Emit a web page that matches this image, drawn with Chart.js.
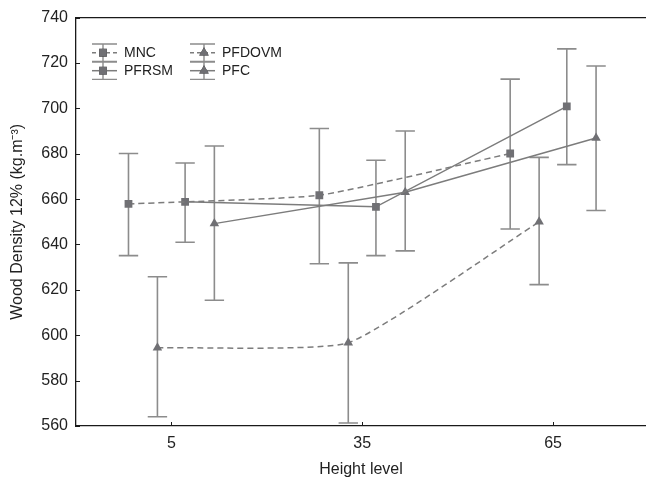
<!DOCTYPE html>
<html><head><meta charset="utf-8">
<script src="https://cdn.jsdelivr.net/npm/chart.js@4"></script>
<style>html,body{margin:0;padding:0;background:#fff}#wrap{width:646px;height:479px}</style>
</head><body><div id="wrap"><canvas id="c" width="646" height="479"></canvas></div>
<script>
// ---- data ----
const heightLevels = [5, 35, 65];
const seriesNames = ['MNC', 'PFDOVM', 'PFRSM', 'PFC'];
const mncMean = [657.9, 661.7, 680.1];
const mncUpper = [680.1, 691.1, 712.9];
const mncLower = [635.1, 631.5, 646.8];
const pfdovmMean = [594.5, 596.7, 650.0];
const pfdovmUpper = [625.8, 631.9, 678.4];
const pfdovmLower = [564.1, 561.3, 622.3];
const pfrsmMean = [658.8, 656.6, 700.9];
const pfrsmUpper = [675.9, 677.1, 726.2];
const pfrsmLower = [641.0, 635.1, 675.2];
const pfcMean = [649.2, 663.0, 686.9];
const pfcUpper = [683.4, 690.0, 718.7];
const pfcLower = [615.4, 637.2, 655.0];
const xTickValues = [5, 35, 65];
const yTickValues = [560, 580, 600, 620, 640, 660, 680, 700, 720, 740];

// ---- styles (not data) ----
const FONT = '"Liberation Sans", Arial, sans-serif';
const LINE = '#7c7c7c', BAR = '#8c8c8c', MARK = '#707074', AXIS = '#1a1a1a', TXT = '#222';
const styleInfo = {
  MNC:    {offset: -6.75, dash: [6, 4], shape: 'rect',     tension: 0.15},
  PFDOVM: {offset: -2.2,  dash: [6, 4], shape: 'triangle', tension: 0.15},
  PFRSM:  {offset: 2.15,  dash: [],     shape: 'rect',     tension: 0},
  PFC:    {offset: 6.75,  dash: [],     shape: 'triangle', tension: 0}
};
const seriesData = {
  MNC: [mncMean, mncUpper, mncLower],
  PFDOVM: [pfdovmMean, pfdovmUpper, pfdovmLower],
  PFRSM: [pfrsmMean, pfrsmUpper, pfrsmLower],
  PFC: [pfcMean, pfcUpper, pfcLower]
};

const datasets = seriesNames.map(name => {
  const st = styleInfo[name];
  const [m, up, lo] = seriesData[name];
  return {
    label: name,
    data: heightLevels.map((h, i) => ({x: h + st.offset, y: m[i], up: up[i], lo: lo[i]})),
    borderColor: LINE,
    borderWidth: 1.5,
    borderDash: st.dash,
    tension: st.tension,
    pointStyle: st.shape,
    pointRadius: 5.5,
    pointHoverRadius: 5.5,
    pointBackgroundColor: MARK,
    pointBorderColor: MARK,
    pointBorderWidth: 0,
    fill: false
  };
});

const extras = {
  id: 'extras',
  beforeDatasetsDraw(chart) {
    const ctx = chart.ctx, xs = chart.scales.x, ys = chart.scales.y;
    ctx.save();
    ctx.strokeStyle = BAR; ctx.lineWidth = 1.6; ctx.setLineDash([]);
    chart.data.datasets.forEach(ds => {
      ds.data.forEach(p => {
        const px = xs.getPixelForValue(p.x);
        const pu = ys.getPixelForValue(p.up), pl = ys.getPixelForValue(p.lo);
        ctx.beginPath();
        ctx.moveTo(px, pu); ctx.lineTo(px, pl);
        ctx.moveTo(px - 9.7, pu); ctx.lineTo(px + 9.7, pu);
        ctx.moveTo(px - 9.7, pl); ctx.lineTo(px + 9.7, pl);
        ctx.stroke();
      });
    });
    ctx.restore();
  },
  afterDraw(chart) {
    const ctx = chart.ctx, a = chart.chartArea, xs = chart.scales.x, ys = chart.scales.y;
    ctx.save();
    ctx.strokeStyle = AXIS; ctx.lineWidth = 1.3;
    ctx.beginPath(); ctx.moveTo(a.left, a.top); ctx.lineTo(chart.width + 2, a.top); ctx.stroke();
    ctx.lineWidth = 1;
    yTickValues.forEach(v => {
      const y = Math.round(ys.getPixelForValue(v)) + 0.5;
      ctx.beginPath(); ctx.moveTo(a.left, y); ctx.lineTo(a.left + 4, y); ctx.stroke();
    });
    xTickValues.forEach(v => {
      const x = Math.round(xs.getPixelForValue(v)) + 0.5;
      ctx.beginPath(); ctx.moveTo(x, a.bottom); ctx.lineTo(x, a.bottom - 4); ctx.stroke();
    });
    // legend
    const items = [
      {name: 'MNC', col: 0, row: 0}, {name: 'PFRSM', col: 0, row: 1},
      {name: 'PFDOVM', col: 1, row: 0}, {name: 'PFC', col: 1, row: 1}
    ];
    const cols = [{x0: 92, x1: 117, mx: 103, tx: 124}, {x0: 190, x1: 215, mx: 204, tx: 222}];
    const rows = [52.7, 70.7];
    items.forEach(it => {
      const c = cols[it.col], y = rows[it.row], st = styleInfo[it.name];
      ctx.strokeStyle = BAR; ctx.lineWidth = 1.4; ctx.setLineDash([]);
      ctx.beginPath();
      ctx.moveTo(c.x0, y - 8.7); ctx.lineTo(c.x1, y - 8.7);
      ctx.moveTo(c.x0, y + 8.7); ctx.lineTo(c.x1, y + 8.7);
      ctx.moveTo(c.mx, y - 8.7); ctx.lineTo(c.mx, y + 8.7);
      ctx.stroke();
      ctx.strokeStyle = LINE; ctx.lineWidth = 1.5; ctx.setLineDash(st.dash.length ? [4, 3] : []);
      ctx.beginPath(); ctx.moveTo(c.x0, y); ctx.lineTo(c.x1, y); ctx.stroke();
      ctx.setLineDash([]);
      Chart.helpers.drawPoint(ctx, {pointStyle: st.shape, radius: 5.5, borderWidth: 0, rotation: 0}, c.mx, y);
      ctx.fillStyle = MARK;
      ctx.fill();
      ctx.fillStyle = TXT;
      ctx.font = '14px ' + FONT;
      ctx.textBaseline = 'middle'; ctx.textAlign = 'left';
      ctx.fillText(it.name, c.tx, y);
    });
    ctx.restore();
  }
};

Chart.defaults.font.family = FONT;
new Chart(document.getElementById('c'), {
  type: 'line',
  data: {datasets},
  options: {
    responsive: false,
    animation: false,
    devicePixelRatio: 1,
    layout: {autoPadding: false, padding: {top: 15, right: 0, left: 0, bottom: 0}},
    plugins: {legend: {display: false}, tooltip: {enabled: false}},
    scales: {
      x: {
        type: 'linear', min: -10, max: 79.6,
        afterBuildTicks: s => { s.ticks = xTickValues.map(v => ({value: v})); },
        afterFit: s => { s.height = 53; s.paddingLeft = 0; s.paddingRight = 0; },
        grid: {display: false, drawTicks: false},
        border: {display: true, color: AXIS, width: 1.3},
        ticks: {padding: 8, color: TXT, font: {size: 16}, maxRotation: 0, callback: v => String(v)},
        title: {display: true, text: 'Height level', color: TXT, font: {size: 16}, padding: {top: 0, bottom: 0}}
      },
      y: {
        type: 'linear', min: 560, max: 740,
        afterBuildTicks: s => { s.ticks = yTickValues.map(v => ({value: v})); },
        afterFit: s => { s.width = 76; },
        grid: {display: false, drawTicks: false},
        border: {display: true, color: AXIS, width: 1.3},
        ticks: {padding: 8, color: TXT, font: {size: 16}, callback: v => String(v)},
        title: {display: true, text: 'Wood Density 12% (kg.m\u207B\u00B3)', color: TXT, font: {size: 16}, padding: {top: 8, bottom: 0}}
      }
    }
  },
  plugins: [extras]
});
</script></body></html>
